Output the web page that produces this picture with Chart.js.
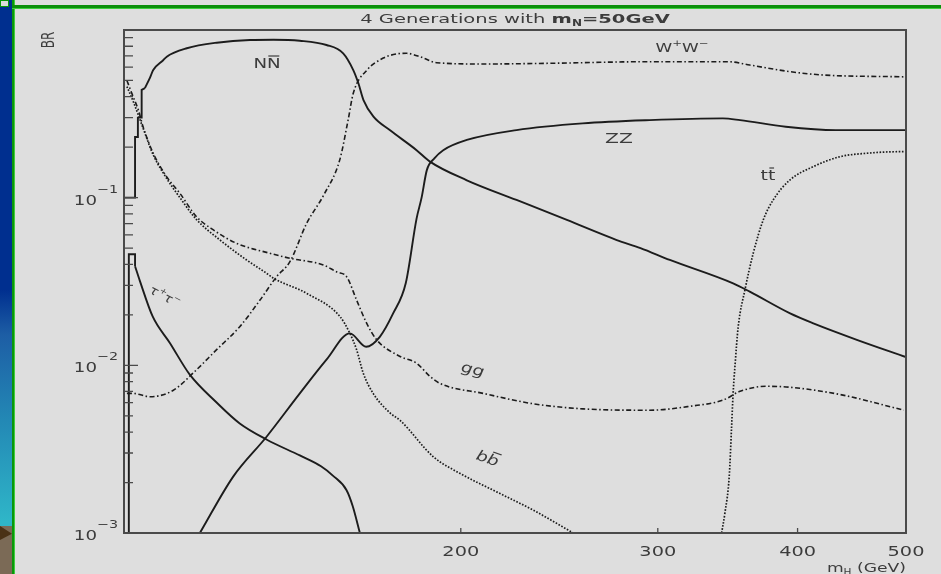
<!DOCTYPE html>
<html>
<head>
<meta charset="utf-8">
<script src="https://cdn.jsdelivr.net/npm/chart.js@4.4.0/dist/chart.umd.min.js"></script>
<style>
  html, body { margin: 0; padding: 0; background: #dedede; }
  body { width: 941px; height: 574px; position: relative; overflow: hidden; }
  #strip { position: absolute; left: 0; top: 0; width: 12px; height: 574px;
    background: linear-gradient(to bottom, #002f8f 0px, #002f8f 290px, #1d5ea5 335px, #2388b5 420px, #2fb6c8 522px); }
  #soil { position: absolute; left: 0; top: 526px; width: 12px; height: 48px; background: #7b6a56; }
  #rock { position: absolute; left: 0; top: 526px; width: 12px; height: 14px; background: #4a3216;
    clip-path: polygon(0 0, 100% 55%, 0 100%); }
  #vline { position: absolute; left: 12px; top: 0; width: 2px; height: 574px; background: #0b960b;
    border-right: 1px solid #3ccf3c; }
  #hline { position: absolute; left: 12px; top: 5px; right: 0; height: 3px; background: #0b8f0b;
    border-bottom: 1px solid #3ccf3c; }
  #corner { position: absolute; left: 0; top: 0; width: 7px; height: 5px; background: #dcdcdc;
    border: 1px solid #0b960b; }
  #chart { position: absolute; left: 0; top: 0; filter: blur(0.4px); }
</style>
</head>
<body>
<div id="strip"></div>
<div id="soil"></div>
<div id="rock"></div>
<div id="vline"></div>
<div id="hline"></div>
<div id="corner"></div>
<canvas id="chart" width="941" height="574"></canvas>
<script>
// branching ratios vs Higgs mass (GeV)
var nnEdge = [[100, 0.1], [102.3, 0.1], [102.3, 0.23], [102.9, 0.23], [102.9, 0.30], [103.7, 0.30], [103.7, 0.44], [104.4, 0.45]]
var nnBar = [[104.4, 0.45], [105.5, 0.52], [106.2, 0.577], [108.4, 0.66], [109.2, 0.693], [113.8, 0.778], [121, 0.84],
  [129.6, 0.872], [136, 0.875], [143.6, 0.863], [151.7, 0.814], [157, 0.726], [160.3, 0.577], [162, 0.481],
  [163.7, 0.382], [167.1, 0.304], [172.8, 0.253], [182.6, 0.192], [187.7, 0.164], [202.5, 0.127], [224.3, 0.0969],
  [248.8, 0.0736], [275.7, 0.0559], [289.5, 0.05], [307.5, 0.0425], [350.3, 0.0308], [362.5, 0.0275],
  [393.9, 0.0204], [413.2, 0.0178], [451.9, 0.0142], [500, 0.0112]]
var wwBR = [[100.6, 0.0068], [101.9, 0.0068], [105.5, 0.0065], [110.7, 0.0071], [115.3, 0.009], [121, 0.0124],
  [126.9, 0.017], [132.3, 0.0245], [136.9, 0.0338], [140.7, 0.0415], [145.6, 0.07], [151, 0.105], [155.9, 0.168],
  [158.6, 0.29], [160.3, 0.42], [164.9, 0.577], [170.5, 0.68], [175.3, 0.72], [178.9, 0.726], [183.9, 0.693],
  [190.3, 0.638], [209.5, 0.627], [240, 0.633], [295, 0.647], [346.8, 0.647], [362.5, 0.618], [394, 0.564],
  [421.6, 0.539], [494, 0.526], [500, 0.525]]
var zzBR = [[116.9, 0.001], [125.2, 0.00217], [134.1, 0.00375], [143.6, 0.0068], [151.7, 0.0108], [159.2, 0.0155],
  [164.6, 0.0129], [169.3, 0.0148], [174, 0.0204], [178.6, 0.031], [182.6, 0.075], [184.5, 0.1], [186.5, 0.146],
  [189.5, 0.172], [192.9, 0.192], [202.5, 0.221], [224.3, 0.253], [257, 0.2775], [295, 0.29], [343, 0.297],
  [355.4, 0.29], [390.4, 0.265], [432.8, 0.253], [500, 0.253]]
var ttBR = [[342.1, 0.001], [344.4, 0.00131], [347.5, 0.00217], [349.2, 0.0043], [350.3, 0.0068], [351.6, 0.0098],
  [354, 0.017], [358.9, 0.0281], [365.1, 0.0466], [372.7, 0.0736], [380.4, 0.0969], [393.7, 0.1274], [413, 0.153],
  [436.4, 0.1755], [461, 0.184], [493.7, 0.188], [500, 0.188]]
var ggBR = [[100.6, 0.5], [101.9, 0.40], [103, 0.333], [104, 0.265], [106.2, 0.184], [109.2, 0.133], [112.2, 0.106],
  [116.1, 0.077], [120.2, 0.0642], [126.1, 0.0534], [135, 0.0466], [140.7, 0.0435], [150.7, 0.0397], [155, 0.036],
  [158.1, 0.0338], [161.4, 0.0245], [164.8, 0.0178], [168.2, 0.0142], [176.5, 0.0113], [182.6, 0.0103],
  [187.7, 0.0086], [191.6, 0.0078], [209.5, 0.0068], [232.1, 0.0059], [257.3, 0.0055], [295, 0.0054],
  [320.5, 0.0057], [343.1, 0.0062], [355.4, 0.0070], [375.2, 0.0075], [393.9, 0.0074], [436.4, 0.0067],
  [497.8, 0.0054]]
var bbBR = [[100.6, 0.46], [102, 0.37], [104, 0.26], [106.2, 0.18], [109.2, 0.13], [112.2, 0.1], [116.1, 0.074],
  [121.8, 0.056], [128.7, 0.0425], [134.1, 0.0354], [136, 0.0331], [145.6, 0.0269], [156, 0.0195], [159.2, 0.0155],
  [161.4, 0.0124], [163.6, 0.009], [167, 0.0068], [172.9, 0.0052], [176.5, 0.0047], [189, 0.00285],
  [199.6, 0.00227], [216.8, 0.00172], [232.1, 0.00137], [252.1, 0.001]]
var tauEdge = [[101, 0.001], [101, 0.046], [102.3, 0.046], [102.3, 0.039]]
var tauBR = [[102.3, 0.039], [103.3, 0.032], [106.1, 0.0195], [109.9, 0.0136], [114.5, 0.0088], [121, 0.006],
  [126.9, 0.0045], [134.2, 0.0036], [143.6, 0.0029], [150, 0.0025], [153.7, 0.0022], [158.1, 0.0018],
  [160.1, 0.00145], [162.5, 0.001]]

var xTicks = [200, 300, 400, 500]
var yDecades = [0.1, 0.01, 0.001]

var SX = 1.42
var INK = "#3c3c3c"
var LINE = "#1c1c1c"

function pts(a) {
  return a.map(function (p) { return {x: p[0], y: p[1]} })
}

function series(a, style, smooth) {
  var ds = {
    data: pts(a),
    borderColor: LINE,
    borderWidth: 1.9,
    pointRadius: 0,
    fill: false,
    tension: 0
  }
  if (smooth) ds.cubicInterpolationMode = "monotone"
  if (style == "dashdot") { ds.borderDash = [5, 2.5, 1.5, 2.5]; ds.borderWidth = 1.6 }
  if (style == "dot") { ds.borderDash = [1.6, 1.6]; ds.borderWidth = 1.7 }
  return ds
}

function font(p, size) {
  return (p.bold ? "bold " : "") + (p.size || size) + "px 'DejaVu Sans'"
}

// draws a row of text pieces (sub/superscripts, overlines), stretched horizontally like the scan
function rich(ctx, parts, x, y, o) {
  o = o || {}
  var size = o.size || 14
  ctx.save()
  ctx.translate(x, y)
  ctx.scale(o.sx || SX, 1)
  if (o.rot) ctx.rotate(o.rot * Math.PI / 180)
  ctx.textBaseline = "alphabetic"
  ctx.textAlign = "left"
  var w = 0
  parts = parts.map(function (p) { return typeof p == "string" ? {t: p} : p })
  parts.forEach(function (p) {
    ctx.font = font(p, size)
    p.w = ctx.measureText(p.t).width
    w += p.w
  })
  var cx = o.align == "right" ? -w : (o.align == "left" ? 0 : -w / 2)
  var base = size * 0.36
  ctx.fillStyle = o.color || INK
  ctx.strokeStyle = o.color || INK
  parts.forEach(function (p) {
    ctx.font = font(p, size)
    ctx.fillText(p.t, cx, base + (p.dy || 0))
    if (p.over) {
      ctx.lineWidth = 1.2
      ctx.beginPath()
      ctx.moveTo(cx + 1, base - size * 0.86)
      ctx.lineTo(cx + p.w - 1, base - size * 0.86)
      ctx.stroke()
    }
    cx += p.w
  })
  ctx.restore()
}

var frame = {
  id: "frame",
  afterDatasetsDraw: function (chart) {
    var ctx = chart.ctx
    var a = chart.chartArea
    var xs = chart.scales.x
    var ys = chart.scales.y
    ctx.save()
    ctx.strokeStyle = "#4a4a4a"
    ctx.lineWidth = 2
    ctx.strokeRect(a.left, a.top, a.right - a.left, a.bottom - a.top)
    ctx.lineWidth = 1.3
    ctx.beginPath()
    // y ticks, inward from the left edge
    for (var e = -3; e < 0; e++) {
      for (var k = 1; k <= 9; k++) {
        var py = ys.getPixelForValue(k * Math.pow(10, e))
        var len = k == 1 ? 14 : 9
        ctx.moveTo(a.left, py)
        ctx.lineTo(a.left + len, py)
      }
    }
    // x ticks, inward from the bottom edge
    xTicks.forEach(function (v) {
      var px = xs.getPixelForValue(v)
      ctx.moveTo(px, a.bottom)
      ctx.lineTo(px, a.bottom - 5)
    })
    ctx.stroke()
    ctx.restore()
  },
  afterDraw: function (chart) {
    var ctx = chart.ctx
    var a = chart.chartArea
    var xs = chart.scales.x
    var ys = chart.scales.y

    rich(ctx, ["4 Generations with ", {t: "m", bold: true}, {t: "N", size: 8, dy: 3, bold: true},
      {t: "=50GeV", bold: true}], (a.left + a.right) / 2, 18, {size: 13, sx: 1.5})

    xTicks.forEach(function (v) {
      rich(ctx, [String(v)], xs.getPixelForValue(v), 551, {size: 14, sx: 1.38})
    })
    yDecades.forEach(function (v) {
      var py = ys.getPixelForValue(v)
      var ex = Math.round(Math.log10(v))
      rich(ctx, ["10"], 97, py + 2, {size: 14, sx: 1.3, align: "right"})
      rich(ctx, ["\u2212" + (-ex)], 97, py - 9, {size: 11, sx: 1.3, align: "left"})
    })
    rich(ctx, ["m", {t: "H", size: 8, dy: 3}, " (GeV)"], a.right, 567, {size: 13, sx: 1.32, align: "right"})
    rich(ctx, ["BR"], 48, 40, {size: 12, sx: 1.5, rot: -90})

    rich(ctx, ["N", {t: "N", over: true}], 267, 63, {size: 14, sx: 1.3})
    rich(ctx, ["W", {t: "+", size: 9, dy: -6}, "W", {t: "\u2212", size: 9, dy: -6}], 682, 47, {size: 13, sx: 1.3})
    rich(ctx, ["ZZ"], 619, 138, {size: 14, sx: 1.45})
    rich(ctx, ["t", {t: "t", over: true}], 768, 175, {size: 14, sx: 1.35})
    rich(ctx, ["gg"], 473, 369, {size: 14, sx: 1.35, rot: 18})
    rich(ctx, ["b", {t: "b", over: true}], 488, 458, {size: 14, sx: 1.35, rot: 25})
    rich(ctx, ["\u03c4", {t: "+", size: 8, dy: -5}, "\u03c4", {t: "\u2212", size: 8, dy: -5}], 165, 296,
      {size: 12, sx: 1.2, rot: 32})
  }
}

new Chart(document.getElementById("chart"), {
  type: "line",
  data: {
    datasets: [
      series(nnEdge, "solid", false),
      series(nnBar, "solid", true),
      series(zzBR, "solid", true),
      series(tauEdge, "solid", false),
      series(tauBR, "solid", true),
      series(wwBR, "dashdot", true),
      series(ggBR, "dashdot", true),
      series(bbBR, "dot", true),
      series(ttBR, "dot", true)
    ]
  },
  options: {
    responsive: false,
    animation: false,
    events: [],
    layout: {padding: {left: 124, right: 35, top: 30, bottom: 41}},
    plugins: {legend: {display: false}, tooltip: {enabled: false}},
    scales: {
      x: {type: "logarithmic", min: 100, max: 500, display: false},
      y: {type: "logarithmic", min: 0.001, max: 1, display: false}
    }
  },
  plugins: [frame]
})
</script>
</body>
</html>
